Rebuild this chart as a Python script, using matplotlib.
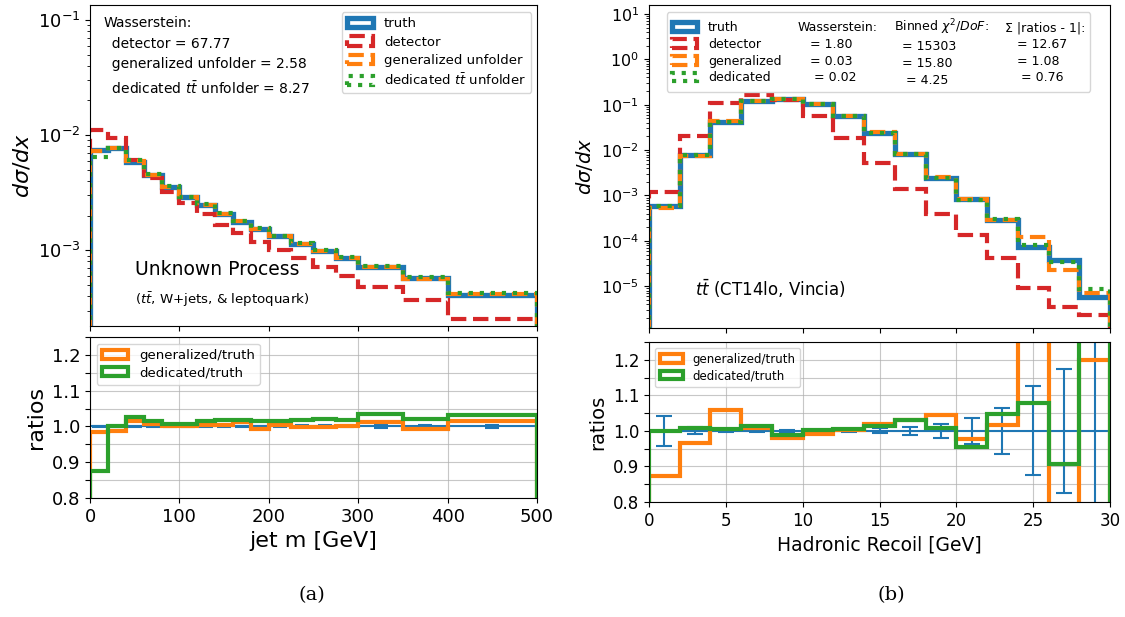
import numpy as np
import matplotlib
matplotlib.use("Agg")
import matplotlib.pyplot as plt
from matplotlib.lines import Line2D

# ---- (a) jet mass, unknown process ----
m_bins = [0, 20, 40, 60, 80, 100, 120, 140, 160, 180, 200, 225, 250, 275, 300, 350, 400, 500]
m_truth = [7.4e-3, 7.8e-3, 5.9e-3, 4.5e-3, 3.56e-3, 2.9e-3, 2.46e-3, 2.06e-3, 1.76e-3,
           1.54e-3, 1.32e-3, 1.13e-3, 9.9e-4, 8.6e-4, 7.1e-4, 5.7e-4, 4.1e-4]
m_detector = [1.1e-2, 9.5e-3, 6.1e-3, 4.25e-3, 3.2e-3, 2.58e-3, 2.06e-3, 1.67e-3, 1.4e-3,
              1.17e-3, 1.0e-3, 8.5e-4, 7.1e-4, 6.0e-4, 4.8e-4, 3.7e-4, 2.55e-4]
m_gen_ratio = [0.983, 0.988, 1.016, 1.007, 1.0, 1.0, 1.005, 1.005, 1.012, 0.993, 1.003,
               0.997, 0.998, 1.0, 1.013, 0.993, 1.014]
m_ded_ratio = [0.874, 1.0, 1.025, 1.016, 1.007, 1.007, 1.016, 1.017, 1.019, 1.014, 1.014,
               1.018, 1.021, 1.019, 1.035, 1.022, 1.033]
m_err = [0.002, 0.002, 0.002, 0.002, 0.002, 0.002, 0.002, 0.002, 0.002, 0.002, 0.003,
         0.003, 0.003, 0.003, 0.004, 0.004, 0.004]

# ---- (b) hadronic recoil, ttbar ----
r_bins = [0, 2, 4, 6, 8, 10, 12, 14, 16, 18, 20, 22, 24, 26, 28, 30]
r_truth = [6.0e-4, 7.8e-3, 4.1e-2, 0.118, 0.135, 0.105, 0.056, 0.024, 8.1e-3, 2.4e-3,
           8.5e-4, 2.85e-4, 7.5e-5, 3.85e-5, 5.8e-6]
r_detector = [1.22e-3, 2.04e-2, 0.109, 0.16, 0.128, 0.056, 0.0187, 5.2e-3, 1.4e-3, 4.0e-4,
              1.35e-4, 4.2e-5, 9.2e-6, 3.4e-6, 2.3e-6]
r_gen_ratio = [0.874, 0.967, 1.058, 1.007, 0.981, 0.99, 1.002, 1.02, 1.03, 1.044, 0.978,
               1.016, 1.6, 0.6, 1.2]
r_ded_ratio = [1.0, 1.008, 1.004, 1.014, 0.988, 1.002, 1.004, 1.013, 1.032, 1.007, 0.955,
               1.048, 1.078, 0.907, 1.5]
r_err = [0.042, 0.01, 0.003, 0.002, 0.002, 0.002, 0.002, 0.007, 0.012, 0.02, 0.037, 0.064,
         0.125, 0.174, 0.6]

legend_b = {
    "Wasserstein:": ["   = 1.80", "   = 0.03", "    = 0.02"],
    r"Binned $\chi^2/DoF$:": ["  = 15303", "  = 15.80", "   = 4.25"],
    "Σ |ratios - 1|:": ["   = 12.67", "   = 1.08", "    = 0.76"],
}


def draw_top(ax, bins, truth, det, gen, ded, labels):
    lefts = bins[:-1]
    h1 = ax.hist(lefts, bins=bins, weights=truth, histtype="step", lw=3.8, color="C0", label=labels[0])[2][0]
    h2 = ax.hist(lefts, bins=bins, weights=det, histtype="step", lw=3, ls="--", color="C3", label=labels[1])[2][0]
    h3 = ax.hist(lefts, bins=bins, weights=gen, histtype="step", lw=3, ls="--", color="C1", label=labels[2])[2][0]
    h4 = ax.hist(lefts, bins=bins, weights=ded, histtype="step", lw=3, ls=":", color="C2", label=labels[3])[2][0]
    ax.set_yscale("log")
    return [h1, h2, h3, h4]


def draw_ratio(ax, bins, gen_r, ded_r, err, capsize):
    lefts = bins[:-1]
    centers = [(bins[i] + bins[i + 1]) / 2 for i in range(len(bins) - 1)]
    ax.axhline(1.0, color="C0", lw=1.5)
    ax.errorbar(centers, np.ones(len(centers)), yerr=err, fmt="none", color="C0",
                capsize=capsize, elinewidth=1.5, capthick=1.5)
    ax.hist(lefts, bins=bins, weights=gen_r, histtype="step", lw=3, color="C1", label="generalized/truth")
    ax.hist(lefts, bins=bins, weights=ded_r, histtype="step", lw=3, color="C2", label="dedicated/truth")
    ax.set_ylim(0.8, 1.25)
    ticks = np.round(np.arange(0.8, 1.26, 0.05), 2)
    ax.set_yticks(ticks)
    ax.set_yticklabels([f"{t:.1f}" if i % 2 == 0 else "" for i, t in enumerate(ticks)])
    ax.grid(True, color="#b0b0b0", lw=0.8, alpha=0.7)
    ax.set_xlim(bins[0], bins[-1])


fig = plt.figure(figsize=(11.25, 6.17), dpi=100)

# panel (a)
ax1 = fig.add_axes([0.080, 0.4716, 0.3973, 0.5203])
ax2 = fig.add_axes([0.080, 0.1929, 0.3973, 0.2610], sharex=ax1)
m_gen = np.array(m_truth) * np.array(m_gen_ratio)
m_ded = np.array(m_truth) * np.array(m_ded_ratio)
hs = draw_top(ax1, m_bins, m_truth, m_detector, m_gen, m_ded,
              ["truth", "detector", "generalized unfolder", r"dedicated $t\bar{t}$ unfolder"])
ax1.set_ylim(2.2e-4, 0.135)
ax1.set_xlim(0, 500)
ax1.set_ylabel(r"$d\sigma/dx$", fontsize=16)
ax1.tick_params(labelsize=13, labelbottom=False)
ax1.legend(loc="upper right", fontsize=9.5, bbox_to_anchor=(0.987, 0.978), borderaxespad=0,
           labelspacing=0.4)
ax1.text(0.03, 0.965, "Wasserstein:\n  detector = 67.77\n  generalized unfolder = 2.58\n"
         r"  dedicated $t\bar{t}$ unfolder = 8.27", transform=ax1.transAxes, va="top",
         fontsize=10, linespacing=1.6)
ax1.text(0.1, 0.16, "Unknown Process", transform=ax1.transAxes, fontsize=13.5)
ax1.text(0.1, 0.068, r"($t\bar{t}$, W+jets, & leptoquark)", transform=ax1.transAxes, fontsize=9.6)

draw_ratio(ax2, m_bins, m_gen_ratio, m_ded_ratio, m_err, 5)
ax2.set_xticks([0, 100, 200, 300, 400, 500])
ax2.set_xlabel("jet m [GeV]", fontsize=16)
ax2.set_ylabel("ratios", fontsize=16)
ax2.tick_params(labelsize=13)
ax2.legend(loc="upper left", fontsize=9.5, labelspacing=0.35)

# panel (b)
ax3 = fig.add_axes([0.5769, 0.4684, 0.4098, 0.5235])
ax4 = fig.add_axes([0.5769, 0.1864, 0.4098, 0.2593], sharex=ax3)
r_gen = np.array(r_truth) * np.array(r_gen_ratio)
r_ded = np.array(r_truth) * np.array(r_ded_ratio)
hs = draw_top(ax3, r_bins, r_truth, r_detector, r_gen, r_ded,
              ["truth", "detector", "generalized", "dedicated"])
ax3.set_ylim(1.2e-6, 15.8)
ax3.set_xlim(0, 30)
ax3.set_ylabel(r"$d\sigma/dx$", fontsize=14)
ax3.tick_params(labelsize=11.5, labelbottom=False)

blank = Line2D([], [], alpha=0)
handles = list(hs)
labels = ["truth", "detector", "generalized", "dedicated"]
for head, vals in legend_b.items():
    handles += [blank] * 4
    labels += [head] + vals
ax3.legend(handles, labels, ncol=4, loc="upper left", fontsize=9,
           bbox_to_anchor=(0.038, 0.978), borderaxespad=0, columnspacing=-1.6,
           handlelength=2.0, handletextpad=0.9, labelspacing=0.3)
ax3.text(0.1, 0.1, r"$t\bar{t}$ (CT14lo, Vincia)", transform=ax3.transAxes, fontsize=12)

draw_ratio(ax4, r_bins, r_gen_ratio, r_ded_ratio, r_err, 6)
ax4.set_xticks([0, 5, 10, 15, 20, 25, 30])
ax4.set_xlabel("Hadronic Recoil [GeV]", fontsize=13.5)
ax4.set_ylabel("ratios", fontsize=14)
ax4.tick_params(labelsize=12)
ax4.legend(loc="upper left", fontsize=8.5, labelspacing=0.3)

fig.text(0.277, 0.027, "(a)", ha="center", fontsize=14, family="DejaVu Serif")
fig.text(0.792, 0.027, "(b)", ha="center", fontsize=14, family="DejaVu Serif")

fig.savefig("out.png", dpi=100)
